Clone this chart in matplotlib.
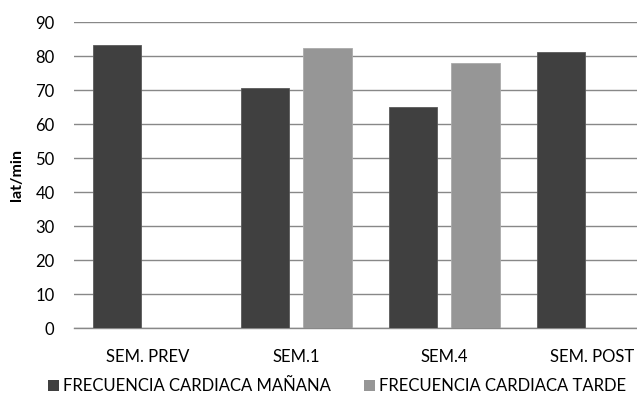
import matplotlib.pyplot as plt
import numpy as np
from matplotlib.patches import Patch

# Weekly heart rate readings (beats per minute)
semanas = ['SEM. PREV', 'SEM.1', 'SEM.4', 'SEM. POST']
fc_manana = [83.4, 70.8, 65.1, 81.4]
fc_tarde = [np.nan, 82.5, 78.1, np.nan]
series_labels = ['FRECUENCIA CARDIACA MAÑANA', 'FRECUENCIA CARDIACA TARDE']

DARK = '#404040'
LIGHT = '#969696'
GRID = '#888888'

plt.rcParams['font.family'] = ['Lato', 'DejaVu Sans']

fig = plt.figure(figsize=(6.37, 3.95), dpi=100)
# plot area runs a little past the right edge of the figure
ax = fig.add_axes([0.1162, 0.1684, 0.9294, 0.7747])

x = np.arange(len(semanas))
w = 0.33
ax.bar(x - 0.21, fc_manana, w, color=DARK, edgecolor='#5a5a5a', linewidth=0.6, zorder=3)
ax.bar(x + 0.21, fc_tarde, w, color=LIGHT, edgecolor='#aaaaaa', linewidth=0.6, zorder=3)

ax.set_xlim(-0.5, len(semanas) - 0.5)
ax.set_ylim(0, 90)
ax.set_yticks(range(0, 91, 10))
ax.yaxis.grid(True, color=GRID, linewidth=1.0, zorder=0)
ax.set_axisbelow(True)

for side in ['top', 'right', 'left']:
    ax.spines[side].set_visible(False)
ax.spines['bottom'].set_color(GRID)
ax.spines['bottom'].set_linewidth(1.0)

ax.set_xticks(x)
ax.set_xticklabels(semanas)
ax.tick_params(axis='both', length=0, labelsize=12, colors='#000000')
ax.tick_params(axis='y', pad=14)
ax.tick_params(axis='x', pad=15)

ax.set_ylabel('lat/min', fontsize=11.5, fontweight='bold', labelpad=8)

handles = [Patch(facecolor=DARK), Patch(facecolor=LIGHT)]
fig.legend(handles, series_labels, loc='center', bbox_to_anchor=(0.529, 0.022),
           ncol=2, frameon=False, fontsize=12, handlelength=0.66, handleheight=0.66,
           handletextpad=0.25, columnspacing=2.0, borderpad=0.2)

fig.savefig('out.png', dpi=100)
